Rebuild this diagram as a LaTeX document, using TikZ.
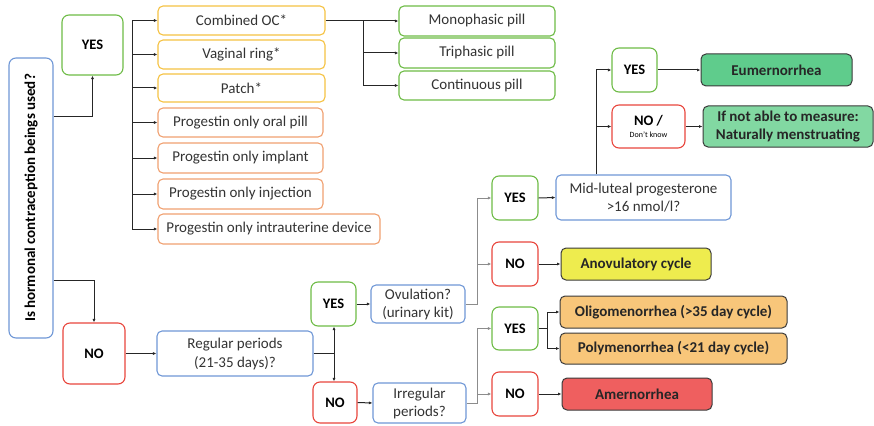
\documentclass[tikz,border=0pt]{standalone}
\usepackage{fontspec}
\setmainfont{Carlito}
\usetikzlibrary{arrows.meta}
\definecolor{cblue}{HTML}{6F97D6}
\definecolor{cgreen}{HTML}{6DBB45}
\definecolor{cred}{HTML}{E8453C}
\definecolor{cyell}{HTML}{F5C242}
\definecolor{corange}{HTML}{F0A070}
\definecolor{fgreen}{HTML}{5FCC8C}
\definecolor{flgreen}{HTML}{82D8A2}
\definecolor{fyell}{HTML}{EEEC4E}
\definecolor{forange}{HTML}{F8C67A}
\definecolor{fred}{HTML}{EF5F5F}
\definecolor{bdark}{HTML}{3A3A3A}
\tikzset{
  bx/.style={draw, line width=1.1pt, rounded corners=5pt, inner sep=1pt, align=center, font=\fontsize{15}{18}\selectfont, text=black!80},
  bluebox/.style={bx, draw=cblue},
  yellbox/.style={bx, draw=cyell},
  orbox/.style={bx, draw=corange},
  grbox/.style={bx, draw=cgreen},
  yesbox/.style={bx, draw=cgreen, rounded corners=7pt, font=\bfseries\fontsize{14.5}{16}\selectfont, text=black},
  nobox/.style={bx, draw=cred, rounded corners=7pt, font=\bfseries\fontsize{14.5}{16}\selectfont, text=black},
  outbox/.style={bx, draw=bdark, line width=1pt, font=\bfseries\fontsize{15}{18}\selectfont, text=black!85},
  arr/.style={-{Latex[length=3.5pt,width=3pt]}, line width=1pt, black!85},
  ln/.style={line width=1pt, black!85},
  garr/.style={-{Latex[length=3.5pt,width=3pt]}, line width=1pt, black!45},
  gln/.style={line width=1pt, black!45},
}
\begin{document}
\begin{tikzpicture}[x=1pt,y=-1pt]
\useasboundingbox (0,0) rectangle (874,425);
% main question
\node[bluebox, minimum width=44pt, minimum height=280pt, rounded corners=7pt] (main) at (31,198) {};
\node[rotate=90, font=\bfseries\fontsize{15}{17}\selectfont] (mainlabel) at (main.center) {Is hormonal contraception beings used?};
% yes / no first level
\node[yesbox, minimum width=61pt, minimum height=60pt] (yes1) at (92.5,45) {YES};
\node[nobox, minimum width=62pt, minimum height=61pt] (no1) at (94,353.5) {NO};
% contraception boxes
\node[yellbox, minimum width=167pt, minimum height=29pt] (coc) at (241.5,20.5) {Combined OC*};
\node[yellbox, minimum width=167pt, minimum height=29pt] (ring) at (241.5,54.5) {Vaginal ring*};
\node[yellbox, minimum width=167pt, minimum height=28pt] (patch) at (241.5,88) {Patch*};
\node[orbox, minimum width=165pt, minimum height=29pt] (oral) at (240.5,122.5) {Progestin only oral pill};
\node[orbox, minimum width=165pt, minimum height=30pt] (impl) at (240.5,158) {Progestin only implant};
\node[orbox, minimum width=165pt, minimum height=30pt] (inj) at (240.5,194) {Progestin only injection};
\node[orbox, minimum width=222pt, minimum height=30pt] (iud) at (269,229) {Progestin only intrauterine device};
% pills
\node[grbox, minimum width=156pt, minimum height=30pt] (mono) at (477,21) {Monophasic pill};
\node[grbox, minimum width=156pt, minimum height=30pt] (tri) at (477,53) {Triphasic pill};
\node[grbox, minimum width=156pt, minimum height=29pt] (cont) at (477,85.5) {Continuous pill};
% regular periods branch
\node[bluebox, minimum width=156pt, minimum height=45pt, font=\fontsize{15}{19}\selectfont] (reg) at (235,353.5) {Regular periods\\(21-35 days)?};
\node[yesbox, minimum width=45pt, minimum height=44pt] (yes5) at (333.5,304) {YES};
\node[nobox, minimum width=44pt, minimum height=41pt] (no5) at (335,402.5) {NO};
\node[bluebox, minimum width=94pt, minimum height=38pt] (ovul) at (418,304) {Ovulation?\\(urinary kit)};
\node[bluebox, minimum width=93pt, minimum height=40pt] (irreg) at (419.5,403) {Irregular\\periods?};
\node[yesbox, minimum width=46pt, minimum height=44pt] (yes3) at (515,198) {YES};
\node[nobox, minimum width=46pt, minimum height=44pt] (no3) at (515,264) {NO};
\node[yesbox, minimum width=46pt, minimum height=43pt] (yes4) at (515,328.5) {YES};
\node[nobox, minimum width=46pt, minimum height=44pt] (no4) at (515,394) {NO};
\node[bluebox, minimum width=175pt, minimum height=45pt] (midl) at (643.5,197.5) {Mid-luteal progesterone\\{>}16 nmol/l?};
\node[outbox, fill=fyell, minimum width=150pt, minimum height=32pt] (anov) at (636,264) {Anovulatory cycle};
\node[outbox, fill=forange, minimum width=227pt, minimum height=32pt] (oligo) at (673.5,312) {Oligomenorrhea (>35 day cycle)};
\node[outbox, fill=forange, minimum width=227pt, minimum height=31pt] (poly) at (673.5,348.5) {Polymenorrhea (<21 day cycle)};
\node[outbox, fill=fred, minimum width=150pt, minimum height=32pt] (amen) at (637,394) {Amernorrhea};
% top right
\node[yesbox, minimum width=45pt, minimum height=44pt] (yes2) at (634.5,70) {YES};
\node[nobox, minimum width=73pt, minimum height=43pt, font=\bfseries\fontsize{14.5}{13}\selectfont] (no2) at (648.5,126.5) {NO /\\[-1pt]{\mdseries\fontsize{8}{9}\selectfont Don't know}};
\node[outbox, fill=fgreen, minimum width=151pt, minimum height=32pt] (eum) at (776.5,70) {Eumernorrhea};
\node[outbox, fill=flgreen, minimum width=170pt, minimum height=41pt, font=\bfseries\fontsize{15}{18}\selectfont] (ifnot) at (788,126.5) {If not able to measure:\\Naturally menstruating};
% coordinates
\coordinate (bus1) at (132,20.5);
\coordinate (bus1b) at (132,229);
\coordinate (bus2) at (363,20.5);
\coordinate (bus3) at (596,70);
\coordinate (bus4) at (477,304);
\coordinate (bus5) at (477,403);
\coordinate (bus6) at (547,328.5);
\coordinate (bus7) at (334,353.5);
% connectors from main
\draw[arr] (main.east |- 0,116) -| (yes1.south);
\draw[arr] (main.east |- 0,280) -| (no1.north);
% contraception bus
\draw[ln] (bus1) -- (bus1b);
\foreach \n in {coc,ring,patch,oral,impl,inj,iud}
  \draw[arr] (bus1 |- \n.west) -- (\n.west);
% pills
\draw[ln] (coc.east) -- (bus2) -- (bus2 |- cont.west);
\foreach \n in {mono,tri,cont}
  \draw[arr] (bus2 |- \n.west) -- (\n.west);
% NO -> regular
\draw[arr] (no1.east) -- (reg.west);
\draw[ln] (reg.east) -- (bus7);
\draw[arr] (bus7) -- (bus7 |- yes5.south);
\draw[arr] (bus7) -- (bus7 |- no5.north);
\draw[arr] (yes5.east) -- (ovul.west);
\draw[arr] (no5.east) -- (irreg.west);
% ovulation bus
\draw[gln] (ovul.east |- bus4) -- (bus4) -- (bus4 |- yes3.west);
\draw[garr] (bus4 |- yes3.west) -- (yes3.west);
\draw[garr] (bus4 |- no3.west) -- (no3.west);
% irregular bus
\draw[gln] (irreg.east |- bus5) -- (bus5) -- (bus5 |- yes4.west);
\draw[garr] (bus5 |- yes4.west) -- (yes4.west);
\draw[garr] (bus5 |- no4.west) -- (no4.west);
% outcomes
\draw[arr] (yes3.east) -- (midl.west);
\draw[arr] (no3.east) -- (anov.west);
\draw[arr] (no4.east) -- (amen.west);
\draw[ln] (yes4.east) -- (bus6);
\draw[ln] (bus6 |- oligo.west) -- (bus6 |- poly.west);
\draw[arr] (bus6 |- oligo.west) -- (oligo.west);
\draw[arr] (bus6 |- poly.west) -- (poly.west);
% mid-luteal bus
\draw[ln] (bus3 |- midl.north) -- (bus3);
\draw[arr] (bus3) -- (yes2.west);
\draw[arr] (bus3 |- no2.west) -- (no2.west);
\draw[arr] (yes2.east) -- (eum.west);
\draw[arr] (no2.east) -- (ifnot.west);
\end{tikzpicture}
\end{document}
